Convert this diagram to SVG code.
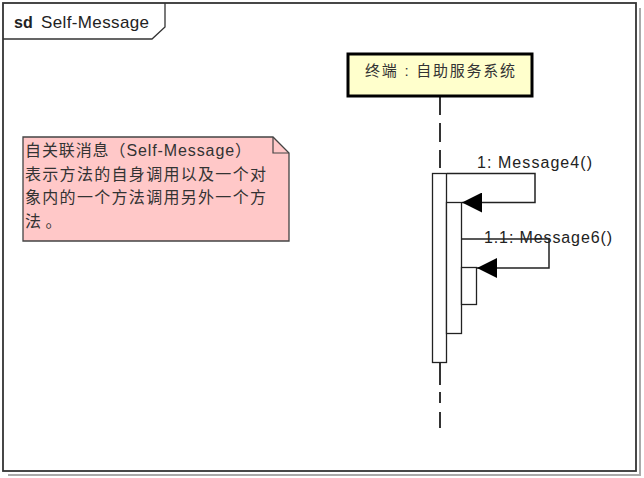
<svg xmlns="http://www.w3.org/2000/svg" width="644" height="478" viewBox="0 0 644 478">
<style>
.lat{font-family:"Liberation Sans",Arial,sans-serif;fill:#222}
.cjk{font-family:"Liberation Sans","Noto Sans CJK SC",sans-serif;fill:#333}
.ln{stroke:#222;stroke-width:1.5;fill:none}
.act{fill:#fff;stroke:#222;stroke-width:1.3}
</style>
<defs>
<marker id="ah" markerWidth="20" markerHeight="20" refX="20" refY="10" orient="auto" markerUnits="userSpaceOnUse">
<path d="M0,0 L20,10 L0,20 Z" fill="#000"/>
</marker>
</defs>
<rect x="0" y="0" width="644" height="478" fill="#fff"/>
<path d="M640 8 V475 H8" fill="none" stroke="#aaa" stroke-width="2"/>
<g id="frame">
<rect x="3" y="3" width="633" height="468" fill="#fff" stroke="#333" stroke-width="1.8"/>
<path d="M3 39 H152 L165 27 V3" fill="none" stroke="#333" stroke-width="1.3"/>
<text x="14" y="28" class="lat" font-size="16" font-weight="bold">sd</text>
<text x="41" y="28" class="lat" font-size="17" textLength="108" lengthAdjust="spacing">Self-Message</text>
</g>
<g id="note">
<path d="M23 137 H273 L289 153 V241 H23 Z" fill="#FFC8C8" stroke="#444" stroke-width="1.3"/>
<path d="M273 137 V153 H289" fill="none" stroke="#444" stroke-width="1.2"/>
<text class="cjk" font-size="16" x="25" y="156" textLength="226" lengthAdjust="spacing">自关联消息（Self-Message）</text>
<text class="cjk" font-size="16" x="25" y="179.5" textLength="241" lengthAdjust="spacing">表示方法的自身调用以及一个对</text>
<text class="cjk" font-size="16" x="25" y="203" textLength="241" lengthAdjust="spacing">象内的一个方法调用另外一个方</text>
<text class="cjk" font-size="16" x="25" y="226.5">法 。</text>
</g>
<g id="lifeline">
<path d="M440 97 V115 M440 123 V142 M440 150 V168 M440 362 V385 M440 392 V403 M440 412 V428" stroke="#333" stroke-width="2" fill="none"/>
<rect x="348" y="54" width="184" height="42" fill="#FFFFCC" stroke="#000" stroke-width="3"/>
<text class="cjk" font-size="15" x="440" y="76" text-anchor="middle" textLength="150" lengthAdjust="spacing" fill="#444">终端 : 自助服务系统</text>
</g>
<g id="activations">
<rect class="act" x="432.5" y="173.5" width="14" height="189"/>
<rect class="act" x="446.5" y="202.5" width="15" height="131"/>
<rect class="act" x="461.5" y="267.5" width="15" height="37"/>
</g>
<g id="connectors">
<path class="ln" d="M447 173.5 H535 V202.5 H462" marker-end="url(#ah)"/>
<path class="ln" d="M462 239 H549 V268 H477" marker-end="url(#ah)"/>
</g>
<g id="labels">
<text class="lat" font-size="16" x="477" y="168" textLength="115" lengthAdjust="spacing">1: Message4()</text>
<text class="lat" font-size="16" x="484" y="243" textLength="128" lengthAdjust="spacing">1.1: Message6()</text>
</g>
</svg>
